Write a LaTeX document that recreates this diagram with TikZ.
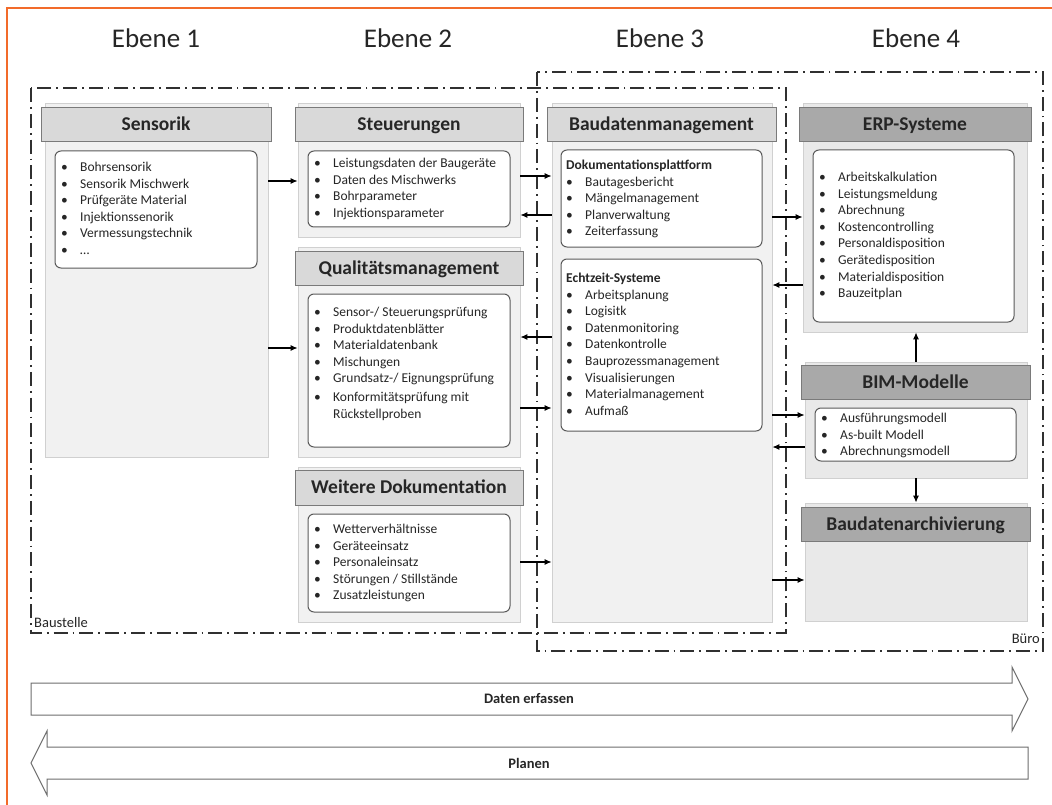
\documentclass[tikz,border=0pt]{standalone}
\usepackage{fontspec}
\setmainfont{Carlito}
\usetikzlibrary{arrows.meta,fit}
\definecolor{panelfill}{HTML}{F1F1F1}
\definecolor{panelfillD}{HTML}{E9E9E9}
\definecolor{panelline}{HTML}{D0D0D0}
\definecolor{hdrfill}{HTML}{D9D9D9}
\definecolor{hdrfillD}{HTML}{A9A9A9}
\definecolor{hdrline}{HTML}{7A7A7A}
\definecolor{iboxline}{HTML}{5A5A5A}
\definecolor{txt}{HTML}{262626}
\definecolor{zoneline}{HTML}{303030}
\definecolor{arrline}{HTML}{6E6E6E}
\definecolor{frameorange}{HTML}{F26B2A}
\newcommand{\itm}{\makebox[19pt][l]{\textbullet}}
\tikzset{
  panel/.style={draw=panelline, fill=panelfill, line width=0.8pt, inner sep=0pt},
  panelD/.style={panel, fill=panelfillD},
  hdr/.style={draw=hdrline, fill=hdrfill, line width=0.9pt, inner sep=0pt},
  hdrD/.style={hdr, fill=hdrfillD},
  hdrtxt/.style={inner sep=0pt, anchor=center, font=\fontsize{19.5}{22}\selectfont\bfseries,
    text=txt, text height=12.5pt, text depth=0pt},
  ibox/.style={draw=iboxline, fill=white, rounded corners=6pt, line width=1pt, inner sep=0pt},
  lst/.style={anchor=north west, inner sep=0pt, font=\fontsize{13.5}{16.6}\selectfont, text=txt},
  conn/.style={draw=black, line width=1.1pt, -{Latex[length=7pt,width=6pt]}},
  zone/.style={draw=zoneline, line width=1.6pt, dash pattern=on 14pt off 5pt on 1.8pt off 5pt},
  ebene/.style={font=\fontsize{27}{30}\selectfont, text=txt, anchor=base},
  zonelabel/.style={font=\fontsize{14.5}{16}\selectfont, text=txt, inner sep=0pt},
  bigarrow/.style={draw=arrline, line width=1pt, fill=white},
  bigtext/.style={font=\fontsize{14.5}{16}\selectfont\bfseries, text=txt},
}
\begin{document}
\begin{tikzpicture}[x=1pt, y=-1pt]
\useasboundingbox (0,0) rectangle (1052,805);
\fill[white] (0,0) rectangle (1052,805);
% orange frame
\draw[frameorange, line width=1.8pt] (7,805) -- (7,8) -- (1052,8);

% level titles
\node[ebene] (e1) at (156,48) {Ebene 1};
\node[ebene] (e2) at (408,48) {Ebene 2};
\node[ebene] (e3) at (660,48) {Ebene 3};
\node[ebene] (e4) at (916,48) {Ebene 4};

% zones
\draw[zone] (31,88) rectangle (786,633);
\draw[zone] (537,72) rectangle (1043,651);
\node[zonelabel, anchor=base west] (baustelle) at (34,627) {Baustelle};
\node[zonelabel, anchor=base east] (buero) at (1040,643) {Büro};

% ---------- Ebene 1 ----------
\node[panel, fit={(45,103)(268,457)}] (sensP) {};
\node[hdr, fit={(41,107)(271,141)}] (sensH) {};
\node[hdrtxt] (sensT) at (sensH.center) {Sensorik};
\node[ibox, fit={(55,151)(257,268)}] (sensB) {};
\node[lst] (sensL) at (61,159.6) {\begin{tabular}{@{}l@{}}
\itm Bohrsensorik\\
\itm Sensorik Mischwerk\\
\itm Prüfgeräte Material\\
\itm Injektionssenorik\\
\itm Vermessungstechnik\\
\itm …
\end{tabular}};

% ---------- Ebene 2 ----------
\node[panel, fit={(298,103)(520,237)}] (steuP) {};
\node[hdr, fit={(295,107)(523,141)}] (steuH) {};
\node[hdrtxt] (steuT) at (steuH.center) {Steuerungen};
\node[ibox, fit={(308,151)(510,227)}] (steuB) {};
\node[lst] (steuL) at (314,155.6) {\begin{tabular}{@{}l@{}}
\itm Leistungsdaten der Baugeräte\\
\itm Daten des Mischwerks\\
\itm Bohrparameter\\
\itm Injektionsparameter
\end{tabular}};

\node[panel, fit={(298,247)(520,457)}] (qualP) {};
\node[hdr, fit={(295,251)(523,285)}] (qualH) {};
\node[hdrtxt] (qualT) at (qualH.center) {Qualitätsmanagement};
\node[ibox, fit={(308,294)(510,447)}] (qualB) {};
\node[lst] (qualL) at (314,304.6) {\begin{tabular}{@{}l@{}}
\itm Sensor-/ Steuerungsprüfung\\
\itm Produktdatenblätter\\
\itm Materialdatenbank\\
\itm Mischungen\\
\itm Grundsatz-/ Eignungsprüfung\\[2.5pt]
\itm Konformitätsprüfung mit\\
\hspace{19pt}Rückstellproben
\end{tabular}};

\node[panel, fit={(298,467)(520,622)}] (weitP) {};
\node[hdr, fit={(295,470)(523,505)}] (weitH) {};
\node[hdrtxt] (weitT) at (weitH.center) {Weitere Dokumentation};
\node[ibox, fit={(308,514)(510,612)}] (weitB) {};
\node[lst] (weitL) at (314,521.6) {\begin{tabular}{@{}l@{}}
\itm Wetterverhältnisse\\
\itm Geräteeinsatz\\
\itm Personaleinsatz\\
\itm Störungen / Stillstände\\
\itm Zusatzleistungen
\end{tabular}};

% ---------- Ebene 3 ----------
\node[panel, fit={(552,103)(772,622)}] (bauP) {};
\node[hdr, fit={(547,107)(776,141)}] (bauH) {};
\node[hdrtxt] (bauT) at (bauH.center) {Baudatenmanagement};
\node[ibox, fit={(561,150)(762,247)}] (dokB) {};
\node[lst] (dokL) at (566,157.6) {\begin{tabular}{@{}l@{}}
\textbf{Dokumentationsplattform}\\
\itm Bautagesbericht\\
\itm Mängelmanagement\\
\itm Planverwaltung\\
\itm Zeiterfassung
\end{tabular}};
\node[ibox, fit={(561,259)(762,431)}] (echB) {};
\node[lst] (echL) at (566,270.6) {\begin{tabular}{@{}l@{}}
\textbf{Echtzeit-Systeme}\\
\itm Arbeitsplanung\\
\itm Logisitk\\
\itm Datenmonitoring\\
\itm Datenkontrolle\\
\itm Bauprozessmanagement\\
\itm Visualisierungen\\
\itm Materialmanagement\\
\itm Aufmaß
\end{tabular}};

% ---------- Ebene 4 ----------
\node[panelD, fit={(803,103)(1027,332)}] (erpP) {};
\node[hdrD, fit={(799,107)(1031,141)}] (erpH) {};
\node[hdrtxt] (erpT) at (erpH.center) {ERP-Systeme};
\node[ibox, fit={(813,150)(1014,322)}] (erpB) {};
\node[lst] (erpL) at (819,169.6) {\begin{tabular}{@{}l@{}}
\itm Arbeitskalkulation\\
\itm Leistungsmeldung\\
\itm Abrechnung\\
\itm Kostencontrolling\\
\itm Personaldisposition\\
\itm Gerätedisposition\\
\itm Materialdisposition\\
\itm Bauzeitplan
\end{tabular}};

\node[panelD, fit={(805,362)(1027,478)}] (bimP) {};
\node[hdrD, fit={(801,365)(1030,399)}] (bimH) {};
\node[hdrtxt] (bimT) at (bimH.center) {BIM-Modelle};
\node[ibox, fit={(815,408)(1016,461)}] (bimB) {};
\node[lst] (bimL) at (821,410.6) {\begin{tabular}{@{}l@{}}
\itm Ausführungsmodell\\
\itm As-built Modell\\
\itm Abrechnungsmodell
\end{tabular}};

\node[panelD, fit={(805,503)(1027,621)}] (arcP) {};
\node[hdrD, fit={(801,507)(1030,541)}] (arcH) {};
\node[hdrtxt] (arcT) at (arcH.center) {Baudatenarchivierung};

% ---------- connectors ----------
\draw[conn] (sensP.east |- 0,181) -- (steuP.west |- 0,181);
\draw[conn] (sensP.east |- 0,348) -- (qualP.west |- 0,348);
\draw[conn] (steuP.east |- 0,176) -- (bauP.west |- 0,176);
\draw[conn] (bauP.west |- 0,215) -- (steuP.east |- 0,215);
\draw[conn] (bauP.west |- 0,337) -- (qualP.east |- 0,337);
\draw[conn] (qualP.east |- 0,408) -- (bauP.west |- 0,408);
\draw[conn] (weitP.east |- 0,562) -- (bauP.west |- 0,562);
\draw[conn] (bauP.east |- 0,217) -- (erpP.west |- 0,217);
\draw[conn] (erpP.west |- 0,285) -- (bauP.east |- 0,285);
\draw[conn] (bauP.east |- 0,415) -- (bimP.west |- 0,415);
\draw[conn] (bimP.west |- 0,447) -- (bauP.east |- 0,447);
\draw[conn] (bauP.east |- 0,580) -- (arcP.west |- 0,580);
\draw[conn] (bimP.north) -- (bimP.north |- erpP.south);
\draw[conn] (bimP.south) -- (bimP.south |- arcP.north);

% ---------- big arrows ----------
\draw[bigarrow] (31,683) -- (1012,683) -- (1012,667) -- (1028,699) -- (1012,731) -- (1012,715) -- (31,715) -- cycle;
\node[bigtext] (erfassen) at (529,699) {Daten erfassen};
\draw[bigarrow] (1028,747) -- (47,747) -- (47,731) -- (31,763) -- (47,795) -- (47,779) -- (1028,779) -- cycle;
\node[bigtext] (planen) at (529,763) {Planen};
\end{tikzpicture}
\end{document}
